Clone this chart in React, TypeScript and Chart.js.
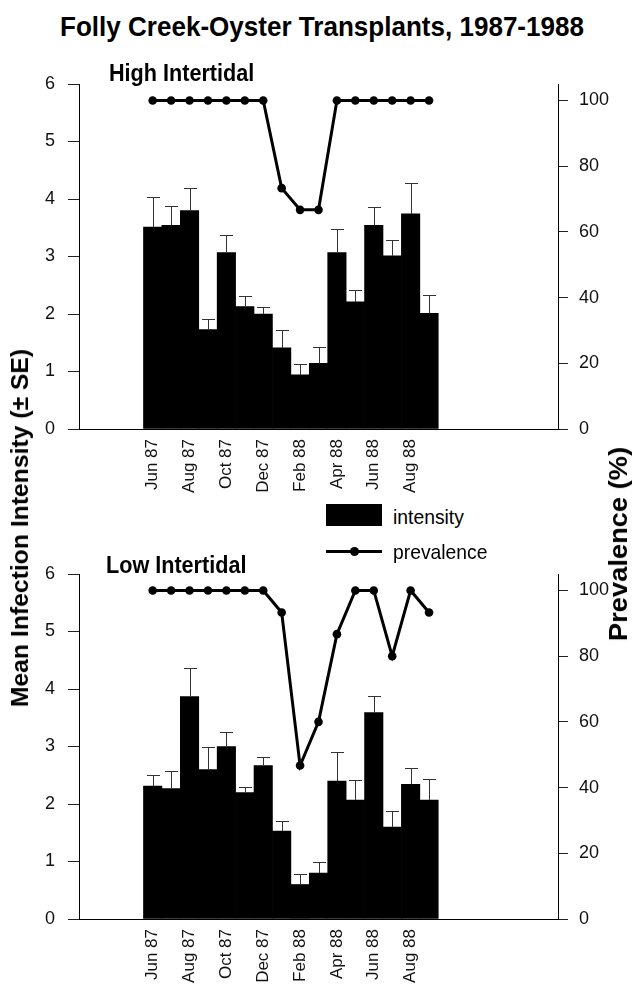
import React, { useEffect, useRef } from "react";
import { Chart, registerables } from "chart.js";

Chart.register(...registerables);

const FONT = "'Liberation Sans', Arial, sans-serif";

// ---- data ----
const months = [
  "Jun 87", "Jul 87", "Aug 87", "Sep 87", "Oct 87", "Nov 87", "Dec 87", "Jan 88",
  "Feb 88", "Mar 88", "Apr 88", "May 88", "Jun 88", "Jul 88", "Aug 88", "Sep 88",
];
const tickMonths = ["Jun 87", "Aug 87", "Oct 87", "Dec 87", "Feb 88", "Apr 88", "Jun 88", "Aug 88"];
const leftTicks = [0, 1, 2, 3, 4, 5, 6];
const rightTicks = [0, 20, 40, 60, 80, 100];

const highIntensity = [3.51, 3.54, 3.8, 1.73, 3.07, 2.13, 2.0, 1.41, 0.94, 1.14, 3.07, 2.21, 3.54, 3.01, 3.74, 2.01];
const highSE = [0.52, 0.34, 0.39, 0.19, 0.3, 0.19, 0.13, 0.32, 0.19, 0.28, 0.41, 0.21, 0.32, 0.27, 0.54, 0.32];
const highPrevalence = [100, 100, 100, 100, 100, 100, 100, 73.3, 66.7, 66.7, 100, 100, 100, 100, 100, 100];

const lowIntensity = [2.31, 2.27, 3.87, 2.6, 3.0, 2.2, 2.67, 1.53, 0.6, 0.8, 2.4, 2.07, 3.59, 1.6, 2.34, 2.07];
const lowSE = [0.2, 0.3, 0.5, 0.4, 0.25, 0.1, 0.15, 0.18, 0.19, 0.19, 0.51, 0.34, 0.29, 0.27, 0.29, 0.36];
const lowPrevalence = [100, 100, 100, 100, 100, 100, 100, 93.3, 46.7, 60, 86.7, 100, 100, 80, 100, 93.3];

const errorBars = (se: number[]) => ({
  id: "errorBars",
  afterDatasetDraw(chart: any, args: any) {
    if (args.meta.type !== "bar") return;
    const ctx = chart.ctx;
    const ys = chart.scales.y;
    const ds = chart.data.datasets[args.index];
    ctx.save();
    ctx.strokeStyle = "#333";
    ctx.lineWidth = 1;
    args.meta.data.forEach((el: any, i: number) => {
      const v = ds.data[i].y;
      const top = Math.round(ys.getPixelForValue(v + se[i])) + 0.5;
      const x = Math.round(el.x) + 0.5;
      ctx.beginPath();
      ctx.moveTo(x, el.y);
      ctx.lineTo(x, top);
      ctx.moveTo(x - 6.5, top);
      ctx.lineTo(x + 6.5, top);
      ctx.stroke();
    });
    ctx.restore();
  },
});

type PanelProps = {
  intensity: number[];
  se: number[];
  prevalence: number[];
  top: number;
  height: number;
  xAxisHeight: number;
};

function Panel({ intensity, se, prevalence, top, height, xAxisHeight }: PanelProps) {
  const ref = useRef<HTMLCanvasElement>(null);
  useEffect(() => {
    Chart.defaults.font.family = FONT;
    const chart = new Chart(ref.current as HTMLCanvasElement, {
      data: {
        datasets: [
          {
            type: "line",
            label: "prevalence",
            data: prevalence.map((y, i) => ({ x: i, y })),
            yAxisID: "y2",
            borderColor: "#000",
            backgroundColor: "#000",
            borderWidth: 3,
            pointRadius: 4.3,
            pointBorderWidth: 0,
            pointBackgroundColor: "#000",
            tension: 0,
            order: 0,
          },
          {
            type: "bar",
            label: "intensity",
            data: intensity.map((y, i) => ({ x: i, y })),
            yAxisID: "y",
            backgroundColor: "#000",
            borderWidth: 0,
            barPercentage: 1,
            categoryPercentage: 1,
            order: 1,
          },
        ],
      } as any,
      options: {
        animation: false,
        responsive: false,
        maintainAspectRatio: false,
        layout: { padding: { top: 30, left: 0, right: 0, bottom: 0 } },
        plugins: { legend: { display: false }, tooltip: { enabled: false }, title: { display: false } },
        scales: {
          x: {
            type: "linear",
            min: -4,
            max: 22,
            offset: false,
            grid: { display: true, drawOnChartArea: false, drawTicks: false },
            border: { display: true, color: "#000", width: 1 },
            ticks: {
              autoSkip: false,
              maxRotation: 90,
              minRotation: 90,
              padding: 10,
              color: "#111",
              font: { size: 17 },
              callback: (v: any) => months[v] ?? "",
            },
            afterBuildTicks: (s: any) => {
              s.ticks = tickMonths.map((m) => ({ value: months.indexOf(m) }));
            },
            afterFit: (s: any) => {
              s.height = xAxisHeight;
            },
          },
          y: {
            position: "left",
            min: 0,
            max: 6,
            grid: { display: true, drawOnChartArea: false, drawTicks: true, tickLength: 11, color: "#222" },
            border: { display: true, color: "#000", width: 1 },
            ticks: { padding: 13, color: "#111", font: { size: 18 } },
            afterBuildTicks: (s: any) => {
              s.ticks = leftTicks.map((v) => ({ value: v }));
            },
            afterFit: (s: any) => {
              s.width = 79;
            },
          },
          y2: {
            position: "right",
            min: 0,
            max: 105,
            grid: { display: true, drawOnChartArea: false, drawTicks: true, tickLength: 10, color: "#222" },
            border: { display: true, color: "#000", width: 1 },
            ticks: { padding: 11, color: "#111", font: { size: 18 } },
            afterBuildTicks: (s: any) => {
              s.ticks = rightTicks.map((v) => ({ value: v }));
            },
            afterFit: (s: any) => {
              s.width = 76;
            },
          },
        },
      } as any,
      plugins: [errorBars(se)],
    });
    return () => chart.destroy();
  }, []);
  return (
    <canvas
      ref={ref}
      width={634}
      height={height}
      style={{ position: "absolute", left: 0, top, width: 634, height, display: "block" }}
    />
  );
}

const textBase: React.CSSProperties = {
  position: "absolute",
  fontFamily: FONT,
  whiteSpace: "nowrap",
  lineHeight: 1,
  color: "#000",
};

export default function App() {
  return (
    <div style={{ position: "absolute", left: 0, top: 0, width: 634, height: 985, background: "#fff", overflow: "hidden" }}>
      <div
        style={{
          ...textBase,
          left: 0,
          width: 644,
          top: 13,
          textAlign: "center",
          fontSize: 28,
          fontWeight: "bold",
          transform: "scaleX(0.93)",
          transformOrigin: "50% 50%",
        }}
      >
        Folly Creek-Oyster Transplants, 1987-1988
      </div>
      <Panel intensity={highIntensity} se={highSE} prevalence={highPrevalence} top={54} height={450} xAxisHeight={75} />
      <Panel intensity={lowIntensity} se={lowSE} prevalence={lowPrevalence} top={544} height={441} xAxisHeight={66} />
      <div style={{ ...textBase, left: 109, top: 61, fontSize: 24, fontWeight: "bold", transform: "scaleX(0.9)", transformOrigin: "0 50%" }}>
        High Intertidal
      </div>
      <div style={{ ...textBase, left: 106, top: 553, fontSize: 24, fontWeight: "bold", transform: "scaleX(0.9)", transformOrigin: "0 50%" }}>
        Low Intertidal
      </div>
      <div
        style={{
          ...textBase,
          left: 20,
          top: 528,
          fontSize: 24,
          fontWeight: "bold",
          transform: "translate(-50%, -50%) rotate(-90deg) scaleX(1.03)",
        }}
      >
        Mean Infection Intensity (± SE)
      </div>
      <div
        style={{
          ...textBase,
          left: 618,
          top: 544,
          fontSize: 26,
          fontWeight: "bold",
          transform: "translate(-50%, -50%) rotate(-90deg) scaleX(1.05)",
        }}
      >
        Prevalence (%)
      </div>
      {/* legend */}
      <div style={{ position: "absolute", left: 326, top: 504, width: 56, height: 22, background: "#000" }} />
      <div style={{ ...textBase, left: 393, top: 506, fontSize: 21, transform: "scaleX(0.92)", transformOrigin: "0 50%" }}>intensity</div>
      <div style={{ position: "absolute", left: 326, top: 550, width: 56, height: 3, background: "#000" }} />
      <div style={{ position: "absolute", left: 350, top: 547, width: 9, height: 9, borderRadius: "50%", background: "#000" }} />
      <div style={{ ...textBase, left: 393, top: 541, fontSize: 21, transform: "scaleX(0.92)", transformOrigin: "0 50%" }}>prevalence</div>
    </div>
  );
}
